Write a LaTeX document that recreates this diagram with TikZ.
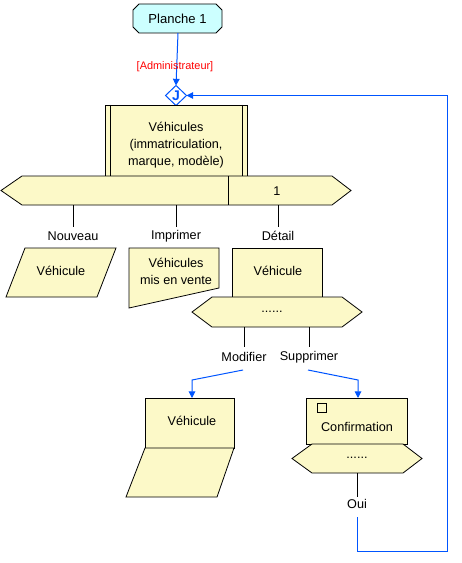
\documentclass[tikz,border=0pt]{standalone}
\usepackage{fontspec}
\setmainfont{Liberation Sans}
\usetikzlibrary{arrows.meta}
\definecolor{yel}{RGB}{252,249,200}
\definecolor{cyanl}{RGB}{204,255,255}
\definecolor{bluel}{RGB}{0,85,255}
\definecolor{redl}{RGB}{255,0,0}
\begin{document}
\begin{tikzpicture}[x=0.75pt,y=-0.75pt,
  font=\fontsize{9.5}{13}\selectfont,
  shp/.style={draw=black, fill=yel, line width=0.6pt, line join=miter},
  tk/.style={draw=black, line width=0.6pt},
  bl/.style={draw=bluel, line width=0.75pt},
  arr/.style={-{Triangle[width=5pt,length=5pt]}},
  lbl/.style={inner sep=1pt}]
\useasboundingbox (0,0) rectangle (461,563);

% Planche 1
\draw[draw=black, fill=cyanl, line width=0.6pt] (139,4) -- (216,4) -- (222,10) -- (222,27) -- (216,33) -- (139,33) -- (133,27) -- (133,10) -- cycle;
\node[lbl] (p1) at (177.5,18.5) {\fontsize{9.8}{11}\selectfont Planche 1};
\coordinate (p1s) at (178,33);

% J junction
\draw[draw=bluel, fill=white, line width=0.75pt] (176,85.5) -- (186.5,95.5) -- (176,105.5) -- (165.5,95.5) -- cycle;
\node[lbl, text=bluel, font=\fontsize{10.5}{11}\bfseries] (J) at (176,96) {J};
\coordinate (jn) at (176,85.5);
\coordinate (je) at (186.5,95.5);

\draw[bl, arr] (p1s) -- (jn);
\node[lbl, text=redl, font=\fontsize{8.2}{10}\selectfont] (adm) at (175,67) {[Administrateur]};

% Vehicules box
\draw[shp] (105,105) rectangle (247,176);
\draw[tk] (110,105) -- (110,176);
\draw[tk] (242,105) -- (242,176);
\node[lbl, align=center] (veh) at (176,145) {Véhicules\\(immatriculation,\\marque, modèle)};

% main menu bar
\draw[shp] (1,190.5) -- (22,176) -- (332,176) -- (351,190.5) -- (332,205) -- (22,205) -- cycle;
\draw[tk] (228,176) -- (228,205);
\node[lbl] (m1) at (277,191) {1};

% ticks and labels
\coordinate (t1) at (73,205);
\coordinate (t2) at (176,205);
\coordinate (t3) at (278,205);
\node[lbl] (nouv) at (73,236) {Nouveau};
\node[lbl] (impr) at (176,236) {Imprimer};
\node[lbl] (det) at (278,236) {Détail};
\draw[tk] (t1) -- (73,227);
\draw[tk] (t2) -- (176,227);
\draw[tk] (t3) -- (278,227);

% Nouveau parallelogram
\draw[shp] (25,248) -- (116,248) -- (97,297) -- (6,297) -- cycle;
\node[lbl] (v1) at (61,271) {Véhicule};

% Imprimer document
\draw[shp] (129,248) -- (219,248) -- (219,288) -- (129,308) -- cycle;
\node[lbl, align=center] (v2) at (176,271.5) {Véhicules\\mis en vente};

% Detail box
\draw[shp] (232,248) rectangle (322,297);
\node[lbl] (v3) at (278,271) {Véhicule};

% detail menu
\draw[shp] (192,312) -- (212,297) -- (342,297) -- (362,312) -- (342,327) -- (212,327) -- cycle;
\node[lbl] (dm) at (272,312) {......};

\coordinate (t4) at (244,327);
\coordinate (t5) at (309,327);
\node[lbl] (modi) at (244,357) {Modifier};
\node[lbl] (supp) at (309,357) {Supprimer};
\draw[tk] (t4) -- (244,347);
\draw[tk] (t5) -- (309,347);

% Modifier / Supprimer arrows
\coordinate (v4n) at (192,398);
\coordinate (v5n) at (358,398);
\draw[bl, arr] (243,370) -- (192,380) -- (v4n);
\draw[bl, arr] (308,370) -- (358,380) -- (v5n);

% Modifier box
\draw[shp] (145,398) rectangle (234,448);
\draw[shp] (145,448) -- (234,448) -- (217,497) -- (126,497) -- cycle;
\node[lbl] (v4) at (192,421) {Véhicule};

% Confirmation box
\draw[shp] (306,398) rectangle (407,444);
\draw[tk] (317,403) rectangle (326,412);
\node[lbl] (conf) at (357,427) {Confirmation};
\draw[shp] (292,458.5) -- (312,444) -- (403,444) -- (422,458.5) -- (403,473) -- (312,473) -- cycle;
\node[lbl] (cm) at (357,458) {......};

\coordinate (t6) at (357,473);
\node[lbl] (oui) at (357,504) {Oui};
\draw[tk] (t6) -- (357,497);

% return loop
\draw[bl, arr] (357,517) -- (357,551) -- (447,551) -- (447,95.5) -- (je);
\end{tikzpicture}
\end{document}
